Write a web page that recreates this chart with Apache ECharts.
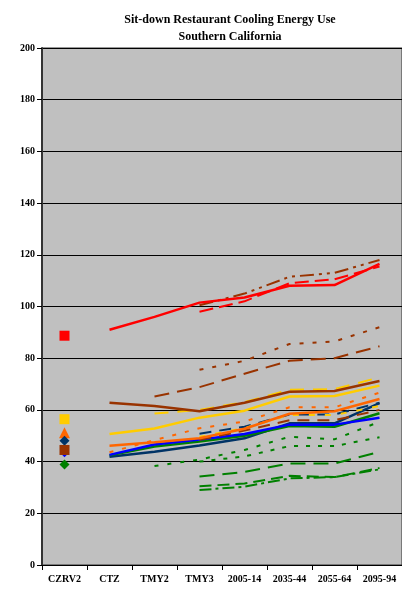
<!DOCTYPE html>
<html>
<head>
<meta charset="utf-8">
<script src="https://cdn.jsdelivr.net/npm/echarts@6/dist/echarts.min.js"></script>
<style>
html,body{margin:0;padding:0;background:#fff;}
#chart{width:402px;height:591px;}
</style>
</head>
<body>
<div id="chart"></div>
<script>
var categories = ['CZRV2','CTZ','TMY2','TMY3','2005-14','2035-44','2055-64','2095-94'];
var yTicks = [0,20,40,60,80,100,120,140,160,180,200];

// line series values (null = no point)
var redSolid      = [null, 91.0, 96.0, 101.5, 103.5, 108.0, 108.3, 116.5];
var redDashed     = [null, null, null, 98.0, 102.0, 109.0, 110.5, 115.5];
var brownDashDot  = [null, null, null, 100.5, 105.0, 111.5, 113.0, 118.0];
var brownDotted   = [null, null, null, 75.5, 79.0, 85.5, 86.5, 92.0];
var brownLongDash = [null, null, 65.2, 68.8, 74.0, 79.0, 80.0, 84.6];
var brownSolid    = [null, 62.8, 61.5, 59.5, 62.8, 67.0, 67.3, 71.2];
var yellowDashedA = [null, null, 58.6, 60.0, 63.0, 67.8, 68.0, 72.6];
var yellowSolid   = [null, 50.7, 52.8, 57.0, 59.7, 65.2, 65.4, 69.4];
var orangeSolid   = [null, 46.1, 47.5, 49.0, 52.7, 58.5, 59.5, 64.2];
var orangeDotted  = [null, 43.6, 48.3, 52.9, 55.5, 61.0, 61.0, 66.7];
var yellowDashedB = [null, null, null, 49.6, 53.0, 58.0, 58.0, 61.5];
var navyDashed    = [null, null, null, 50.8, 53.5, 58.2, 58.2, 62.8];
var brownShortDash= [null, null, null, 48.4, 52.0, 56.0, 56.0, 60.0];
var blueSolid     = [null, 42.6, 46.6, 48.5, 50.7, 54.3, 54.3, 57.0];
var greenSolid    = [null, 42.4, 45.8, 47.8, 50.0, 53.8, 53.5, 58.7];
var navySolid     = [null, 41.9, 43.8, 46.2, 49.0, 54.8, 54.8, 62.6];
var greenDottedA  = [null, null, 38.3, 40.8, 44.5, 49.6, 48.6, 55.4];
var greenDottedB  = [null, null, null, 40.0, 42.0, 46.0, 46.0, 49.4];
var greenLongDash = [null, null, null, 34.2, 36.0, 39.3, 39.3, 43.8];
var greenDashC    = [null, null, null, 30.5, 31.5, 34.5, 34.0, 37.5];
var greenDashD    = [null, null, null, 29.0, 30.3, 33.5, 34.0, 37.0];

// single markers at CZRV2
var markerRed    = 88.7;
var markerYellow = 56.4;
var markerOrange = 51.2;
var markerNavy   = 48.1;
var markerBrown  = 44.5;
var markerBlue   = 42.8;
var markerGreen  = 38.9;

var RED='#FF0000', BROWN='#993300', YELLOW='#FFCC00', ORANGE='#FF6600',
    BLUE='#0000FF', NAVY='#003366', GREEN='#008000';

function line(data, color, type, width){
  return {
    type:'line', data:data, symbol:'none', silent:true,
    connectNulls:false, animation:false,
    lineStyle:{color:color, width:width||2, type:type||'solid', cap:'butt'}
  };
}
function marker(val, color, symbol, size){
  return {
    type:'scatter', data:[[0,val]], symbol:symbol, symbolSize:size||10,
    itemStyle:{color:color, opacity:1}, animation:false, silent:true, z:5
  };
}

var series = [
  line(greenDashD, GREEN, [12,4,3,4]),
  line(greenDashC, GREEN, [12,6]),
  line(greenLongDash, GREEN, [15,8]),
  line(greenDottedB, GREEN, [4,8]),
  line(greenDottedA, GREEN, [4,9]),
  line(navySolid, NAVY, 'solid', 2.5),
  line(greenSolid, GREEN, 'solid', 2.5),
  line(blueSolid, BLUE, 'solid', 2.5),
  line(brownShortDash, BROWN, [12,8]),
  line(navyDashed, NAVY, [12,8]),
  line(yellowDashedB, YELLOW, [6,10]),
  line(orangeDotted, ORANGE, [4,9]),
  line(orangeSolid, ORANGE, 'solid', 2.5),
  line(yellowSolid, YELLOW, 'solid', 2.5),
  line(yellowDashedA, YELLOW, [14,9]),
  line(brownSolid, BROWN, 'solid', 2.5),
  line(brownLongDash, BROWN, [15,8]),
  line(brownDotted, BROWN, [4,9]),
  line(brownDashDot, BROWN, [14,5,3,5,3,5]),
  line(redDashed, RED, [14,6]),
  line(redSolid, RED, 'solid', 2.5),
  marker(markerRed, RED, 'rect', 10),
  marker(markerYellow, YELLOW, 'rect', 10),
  marker(markerOrange, ORANGE, 'triangle', 11),
  marker(markerNavy, NAVY, 'diamond', 10),
  marker(markerBlue, BLUE, 'diamond', 6),
  marker(markerBrown, BROWN, 'rect', 10),
  marker(markerGreen, GREEN, 'diamond', 10)
];

var chart = echarts.init(document.getElementById('chart'), null, {renderer:'canvas'});
chart.setOption({
  animation:false,
  backgroundColor:'#ffffff',
  title:{
    text:'Sit-down Restaurant Cooling Energy Use\nSouthern California',
    left:225, top:6, textAlign:'center',
    textStyle:{fontFamily:'Liberation Serif', fontWeight:'bold', fontSize:12, lineHeight:17, color:'#000'}
  },
  grid:{left:42, top:48, right:-4, bottom:26, show:true, backgroundColor:'#C0C0C0', borderColor:'#333', borderWidth:1},
  xAxis:{
    type:'category', data:categories, boundaryGap:true,
    axisLine:{show:true, lineStyle:{color:'#000', width:1}},
    axisTick:{show:true, length:5, inside:false, alignWithLabel:false, lineStyle:{color:'#000'}},
    axisLabel:{fontFamily:'Liberation Serif', fontWeight:'bold', fontSize:10, color:'#000', margin:9, interval:0},
    splitLine:{show:false}
  },
  yAxis:{
    type:'value', min:yTicks[0], max:yTicks[yTicks.length-1], interval:20,
    axisLine:{show:true, lineStyle:{color:'#333', width:2}},
    axisTick:{show:true, length:5, lineStyle:{color:'#000'}},
    axisLabel:{fontFamily:'Liberation Serif', fontWeight:'bold', fontSize:10, color:'#000', margin:7},
    splitLine:{show:true, lineStyle:{color:'#000', width:1}}
  },
  series:series
});
</script>
</body>
</html>
